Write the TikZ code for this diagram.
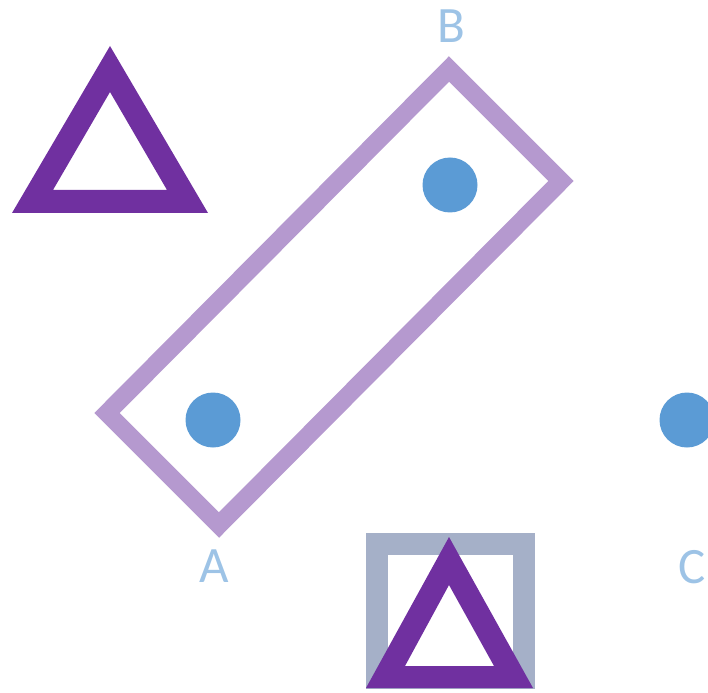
\documentclass[tikz,border=0pt]{standalone}
\usepackage{fontspec}
\setmainfont{Carlito}
\definecolor{darkpurple}{HTML}{7030A0}
\definecolor{lightpurple}{HTML}{B599CF}
\definecolor{dotblue}{HTML}{5B9BD5}
\definecolor{labelblue}{HTML}{9DC3E6}
\definecolor{boxgray}{HTML}{A5B0C8}
\tikzset{
  dot/.style={circle, fill=dotblue, draw=none, minimum size=55pt, inner sep=0pt},
  lbl/.style={text=labelblue, anchor=base, inner sep=0pt, font=\fontsize{51}{51}\selectfont},
  tri/.style={fill=darkpurple, even odd rule, draw=none},
  frame/.style={draw=lightpurple, line width=18pt, line join=miter},
  gbox/.style={draw=boxgray, line width=22pt, line join=miter}
}
\begin{document}
\begin{tikzpicture}[x=1pt,y=-1pt]
\useasboundingbox (0,0) rectangle (708,692);
\clip (0,0) rectangle (708,692);
% rotated frame
\coordinate (r1) at (107,413);
\coordinate (r2) at (449,69);
\coordinate (r3) at (561,181);
\coordinate (r4) at (219,525);
\draw[frame] (r1) -- (r2) -- (r3) -- (r4) -- cycle;
% dots
\node[dot] (d1) at (450,185) {};
\node[dot] (d2) at (213,420) {};
\node[dot] (d3) at (687,420) {};
% top-left triangle
\fill[tri] (110,46) -- (12,213) -- (208,213) -- cycle
           (110,92) -- (53,190) -- (167,190) -- cycle;
% gray square (cut at the bottom)
\begin{scope}
\clip (0,0) rectangle (708,688);
\draw[gbox] (377,544) rectangle (524,699);
\end{scope}
% bottom triangle
\fill[tri] (449,537) -- (366,688) -- (533,688) -- cycle
           (449,585) -- (405,666) -- (494,666) -- cycle;
% labels
\node[lbl] (lB) at (451,43) {B};
\node[lbl] (lA) at (214,582) {A};
\node[lbl] (lC) at (692,583) {C};
\end{tikzpicture}
\end{document}
